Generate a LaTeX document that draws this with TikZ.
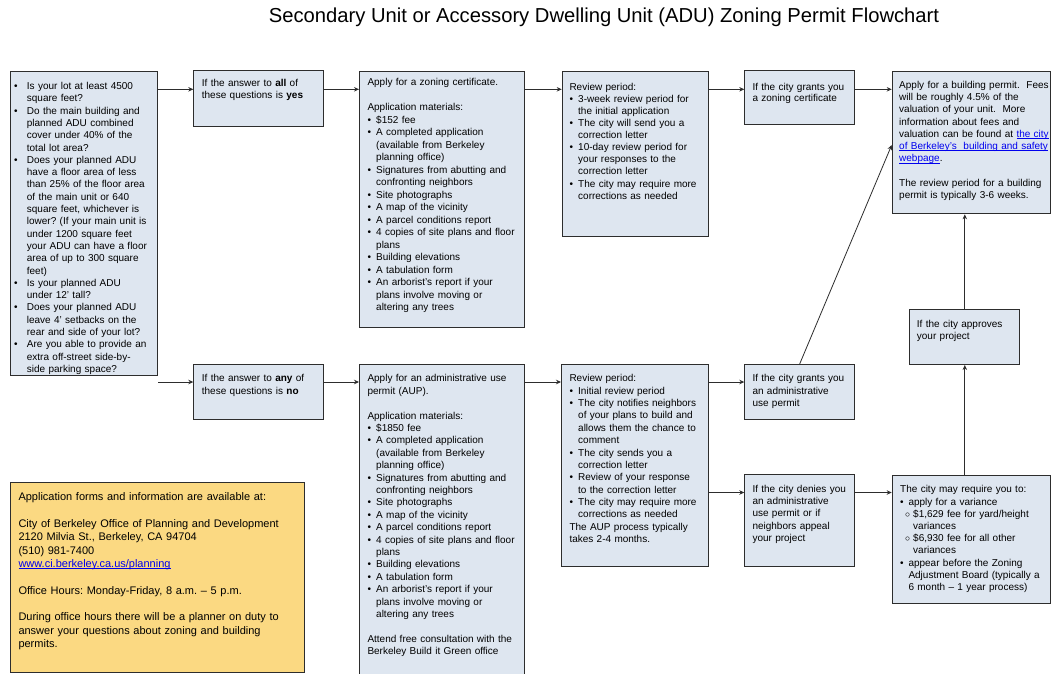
\documentclass[tikz,border=0pt]{standalone}
\usepackage{fontspec}
\setmainfont{Liberation Sans}
\usetikzlibrary{arrows.meta,calc}
\definecolor{boxfill}{RGB}{222,230,240}
\definecolor{infofill}{RGB}{251,217,130}
\definecolor{linkblue}{RGB}{0,0,238}
\definecolor{edge}{RGB}{45,45,45}
\setlength\parindent{0pt}
\setlength\parskip{0pt}
\frenchspacing
\hyphenpenalty=10000
\exhyphenpenalty=10000
\newlength\bhang \newlength\boff \newlength\shang \newlength\soff
\setlength\bhang{8.7pt}\setlength\boff{0pt}
\setlength\shang{13pt}\setlength\soff{4.8pt}
\newcommand\nl{\newline}
\newcommand\bfi[1]{\hangindent=\bhang\hangafter=1\makebox[\bhang][l]{\hspace{\boff}\textbullet}#1\par}
\newcommand\bli[1]{\par\hangindent=\bhang\hangafter=1\noindent\makebox[\bhang][l]{\hspace{\boff}\textbullet}#1\par}
\newcommand\sli[1]{\par\hangindent=\shang\hangafter=1\noindent\makebox[\shang][l]{\hspace{\soff}$\circ$}#1\par}
\newcommand\lnk[1]{\textcolor{linkblue}{\setbox0\hbox{#1}\rlap{\rule[-1.5pt]{\wd0}{0.6pt}}\box0}}
\newcommand\skipline{\par\vspace{\baselineskip}}
\tikzset{
  box/.style={draw=edge, line width=1pt, fill=boxfill, inner sep=0pt, anchor=north west},
  infobox/.style={box, fill=infofill},
  txt/.style={inner sep=0pt, anchor=base west, align=left, text width=320pt,
    font=\fontsize{10}{#1}\selectfont},
  txt/.default=12.3,
  arr/.style={draw=edge, line width=0.8pt, -{Stealth[length=5pt,width=4.5pt]}},
}
\begin{document}
\begin{tikzpicture}[x=1pt,y=-1pt]
\fill[white] (0,0) rectangle (1051,673);
\useasboundingbox (0,0) rectangle (1051,673);

\node[font=\fontsize{20.2}{24}\selectfont, anchor=base, inner sep=0pt] (title) at (604,22.5)
  {Secondary Unit or Accessory Dwelling Unit (ADU) Zoning Permit Flowchart};

% boxes
\node[box, minimum width=147pt, minimum height=304.5pt] (q) at (10,70.7) {};
\node[box, minimum width=129.4pt, minimum height=55.7pt] (yes) at (193.3,70) {};
\node[box, minimum width=165pt, minimum height=256.6pt] (zc) at (359,70.7) {};
\node[box, minimum width=146pt, minimum height=165pt] (r1) at (561.7,70.7) {};
\node[box, minimum width=109.7pt, minimum height=54pt] (g1) at (744.3,70.3) {};
\node[box, minimum width=158.5pt, minimum height=142.6pt] (bp) at (891.7,70.7) {};
\node[box, minimum width=110pt, minimum height=54.7pt] (ap) at (909.3,309.3) {};
\node[box, minimum width=129.4pt, minimum height=55.3pt] (no) at (193.3,364) {};
\node[box, minimum width=165pt, minimum height=320pt] (aup) at (359,364) {};
\node[box, minimum width=146.7pt, minimum height=201.7pt] (r2) at (561,364) {};
\node[box, minimum width=109.7pt, minimum height=55.3pt] (g2) at (744.3,364) {};
\node[box, minimum width=109.7pt, minimum height=91.4pt] (dn) at (744.3,474.3) {};
\node[box, minimum width=158.5pt, minimum height=128.3pt] (mr) at (891.7,475) {};
\node[infobox, minimum width=294pt, minimum height=190pt] (info) at (10,481.7) {};

% texts
\node[txt] (qt) at (14,89.5) {\setlength\bhang{12.7pt}%
\bfi{Is your lot at least 4500\nl square feet?}
\bli{Do the main building and\nl planned ADU combined\nl cover under 40\% of the\nl total lot area?}
\bli{Does your planned ADU\nl have a floor area of less\nl than 25\% of the floor area\nl of the main unit or 640\nl square feet, whichever is\nl lower? (If your main unit is\nl under 1200 square feet\nl your ADU can have a floor\nl area of up to 300 square\nl feet)}
\bli{Is your planned ADU\nl under 12’ tall?}
\bli{Does your planned ADU\nl leave 4’ setbacks on the\nl rear and side of your lot?}
\bli{Are you able to provide an\nl extra off-street side-by-\nl side parking space?}};

\node[txt] (yest) at (201.7,86.2) {If the answer to \textbf{all} of\nl these questions is \textbf{yes}};

\node[txt=12.5] (zct) at (367.3,85.5) {Apply for a zoning certificate.\skipline
Application materials:
\bli{\$152 fee}
\bli{A completed application\nl (available from Berkeley\nl planning office)}
\bli{Signatures from abutting and\nl confronting neighbors}
\bli{Site photographs}
\bli{A map of the vicinity}
\bli{A parcel conditions report}
\bli{4 copies of site plans and floor\nl plans}
\bli{Building elevations}
\bli{A tabulation form}
\bli{An arborist's report if your\nl plans involve moving or\nl altering any trees}};

\node[txt=12.1] (r1t) at (569.3,90.2) {Review period:
\bli{3-week review period for\nl the initial application}
\bli{The city will send you a\nl correction letter}
\bli{10-day review period for\nl your responses to the\nl correction letter}
\bli{The city may require more\nl corrections as needed}};

\node[txt=11.5] (g1t) at (752.3,90.2) {If the city grants you\nl a zoning certificate};

\node[txt=12.2] (bpt) at (899,88.5) {Apply for a building permit.\ \ Fees\nl will be roughly 4.5\% of the\nl valuation of your unit.\ \ More\nl information about fees and\nl valuation can be found at \lnk{the city}\nl \lnk{of Berkeley’s\ \ building and safety}\nl \lnk{webpage}.\skipline
The review period for a building\nl permit is typically 3-6 weeks.};

\node[txt=11.7] (apt) at (916.7,327.5) {If the city approves\nl your project};

\node[txt] (not) at (201.7,381.8) {If the answer to \textbf{any} of\nl these questions is \textbf{no}};

\node[txt=12.4] (aupt) at (367.3,381.8) {Apply for an administrative use\nl permit (AUP).\skipline
Application materials:
\bli{\$1850 fee}
\bli{A completed application\nl (available from Berkeley\nl planning office)}
\bli{Signatures from abutting and\nl confronting neighbors}
\bli{Site photographs}
\bli{A map of the vicinity}
\bli{A parcel conditions report}
\bli{4 copies of site plans and floor\nl plans}
\bli{Building elevations}
\bli{A tabulation form}
\bli{An arborist's report if your\nl plans involve moving or\nl altering any trees}\vspace{\baselineskip}
Attend free consultation with the\nl Berkeley Build it Green office};

\node[txt=12.38] (r2t) at (569.3,381.8) {Review period:
\bli{Initial review period}
\bli{The city notifies neighbors\nl of your plans to build and\nl allows them the chance to\nl comment}
\bli{The city sends you a\nl correction letter}
\bli{Review of your response\nl to the correction letter}
\bli{The city may require more\nl corrections as needed}
The AUP process typically\nl takes 2-4 months.};

\node[txt=12.2] (g2t) at (752.3,381.8) {If the city grants you\nl an administrative\nl use permit};

\node[txt=12.2] (dnt) at (752.3,492.5) {If the city denies you\nl an administrative\nl use permit or if\nl neighbors appeal\nl your project};

\node[txt=12.2] (mrt) at (900,492.8) {\setlength\bhang{8.3pt}The city may require you to:
\bli{apply for a variance}
\sli{\$1,629 fee for yard/height\nl variances}
\sli{\$6,930 fee for all other\nl variances}
\bli{appear before the Zoning\nl Adjustment Board (typically a\nl 6 month – 1 year process)}};

\node[txt, font=\fontsize{11}{13.35}\selectfont] (infot) at (18.3,500.8) {Application forms and information are available at:\skipline
City of Berkeley Office of Planning and Development\nl 2120 Milvia St., Berkeley, CA 94704\nl (510) 981-7400\nl \lnk{www.ci.berkeley.ca.us/planning}\skipline
Office Hours: Monday-Friday, 8 a.m. – 5 p.m.\skipline
During office hours there will be a planner on duty to\nl answer your questions about zoning and building\nl permits.};

% connectors
\coordinate (ra) at (0,89.3);
\coordinate (rb) at (0,382);
\coordinate (rc) at (0,492.5);
\coordinate (rd) at (0,145);
\draw[arr] (q.east |- ra) -- (yes.west |- ra);
\draw[arr] (yes.east |- ra) -- (zc.west |- ra);
\draw[arr] (zc.east |- ra) -- (r1.west |- ra);
\draw[arr] (r1.east |- ra) -- (g1.west |- ra);
\draw[arr] (g1.east |- ra) -- (bp.west |- ra);
\draw[arr] (q.east |- rb) -- (no.west |- rb);
\draw[arr] (no.east |- rb) -- (aup.west |- rb);
\draw[arr] (aup.east |- rb) -- (r2.west |- rb);
\draw[arr] (r2.east |- rb) -- (g2.west |- rb);
\draw[arr] (r2.east |- rc) -- (dn.west |- rc);
\draw[arr] (dn.east |- rc) -- (mr.west |- rc);
\draw[arr] (g2.north) -- (bp.west |- rd);
\draw[arr] (ap.north) -- (ap.north |- bp.south);
\draw[arr] (ap.south |- mr.north) -- (ap.south);
\end{tikzpicture}
\end{document}
